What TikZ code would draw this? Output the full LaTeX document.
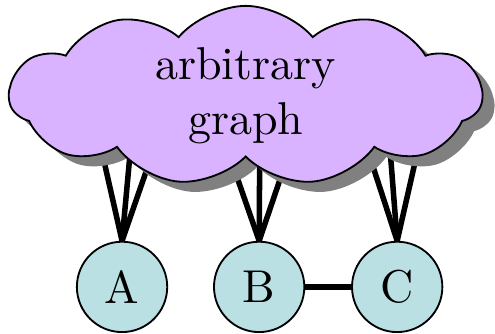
\documentclass[tikz,border=0pt]{standalone}
\usetikzlibrary{shapes.symbols,shadows}
\definecolor{cloudcol}{RGB}{217,179,255}
\definecolor{vertcol}{RGB}{186,224,227}
\begin{document}
\begin{tikzpicture}[vert/.style={circle,draw,fill=vertcol,minimum size=0.69cm,inner sep=0pt},leg/.style={very thick},
	blob/.style={cloud,cloud puffs=11,cloud puff arc=100,cloud ignores aspect,draw,fill=cloudcol,inner ysep=0pt,minimum width=3.61cm,minimum height=1.37cm,align=center,drop shadow={opacity=1,fill=black!50,shadow xshift=2.6pt,shadow yshift=-2.2pt}}]
				\useasboundingbox (0,0) rectangle (3.78,2.55);
				\foreach \n/\x in {A/0.932,B/1.979,C/3.033}
				\node[vert] (\n) at (\x,0.359) {\n};
				
				% ends of the legs, hidden under the cloud
				\foreach \n/\i/\x in {A/1/0.688,A/2/1.031,A/3/1.306,B/1/1.604,B/2/1.986,B/3/2.345,C/1/2.682,C/2/2.949,C/3/3.278}
				\coordinate (\n\i) at (\x,1.788);
				\foreach \n in {A,B,C}
				\foreach \i in {1,2,3} \draw[leg] (\n.north)--(\n\i);
				\draw[leg] (B)--(C);
				
				\node[blob] (graph) at (1.876,1.82) {arbitrary\\graph};
			\end{tikzpicture}
\end{document}
